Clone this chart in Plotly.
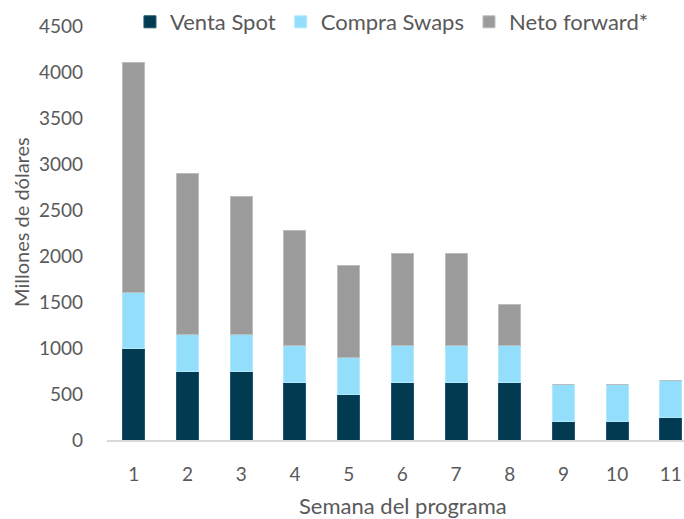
import plotly.graph_objects as go

weeks = ["1", "2", "3", "4", "5", "6", "7", "8", "9", "10", "11"]
venta_spot = [1000, 750, 750, 625, 500, 625, 625, 625, 200, 200, 250]
compra_swaps = [600, 400, 400, 400, 400, 400, 400, 400, 400, 400, 400]
neto_forward = [2500, 1750, 1500, 1250, 1000, 1000, 1000, 450, 0, 0, 0]
y_ticks = [0, 500, 1000, 1500, 2000, 2500, 3000, 3500, 4000, 4500]

FONT = "Lato"
TXT = "#595959"

fig = go.Figure()
fig.add_trace(go.Bar(x=weeks, y=venta_spot, name="Venta Spot", marker_color="#023A51",
                     marker_line=dict(color="#1d5670", width=1)))
fig.add_trace(go.Bar(x=weeks, y=compra_swaps, name="Compra Swaps", marker_color="#93DFFB",
                     marker_line=dict(color="#b3e9fc", width=1)))
fig.add_trace(go.Bar(x=weeks, y=neto_forward, name="Neto forward*", marker_color="#9B9B9B",
                     marker_line=dict(color="#bdbdbd", width=1)))

fig.update_layout(
    barmode="stack",
    bargap=0.59,
    width=684, height=519,
    margin=dict(l=107, r=0, t=26, b=79, autoexpand=False),
    paper_bgcolor="white", plot_bgcolor="white",
    font=dict(family=FONT, size=19, color=TXT),
    legend=dict(orientation="h", xref="container", yref="container",
                x=0.19, y=1 - 22 / 519, xanchor="left", yanchor="middle",
                font=dict(size=22, color=TXT), itemclick=False, traceorder="normal",
                bgcolor="rgba(0,0,0,0)", itemwidth=30),
    xaxis=dict(type="category", range=[-0.5, 10.245], showgrid=False, showline=True,
               linecolor="#D9D9D9", linewidth=2, ticks="", tickfont=dict(size=19, color=TXT),
               ticklabelstandoff=16, automargin=False),
    yaxis=dict(range=[0, 4500], tickvals=y_ticks, showgrid=False, showline=False, zeroline=False,
               ticks="", tickfont=dict(size=19, color=TXT), ticklabelstandoff=23,
               automargin=False),
    annotations=[
        dict(text="Millones de dólares", textangle=-90, xref="paper", yref="paper",
             x=(21 - 107) / 577, y=(440 - 222) / 414, xanchor="center", yanchor="middle",
             showarrow=False, font=dict(size=20, color=TXT)),
        dict(text="Semana del programa", xref="paper", yref="paper",
             x=(402.5 - 107) / 577, y=(440 - 505) / 414, xanchor="center", yanchor="middle",
             showarrow=False, font=dict(size=22, color=TXT)),
    ],
)

fig.write_html("out.html", config={"displayModeBar": False},
               post_script="document.body.style.margin='0px';")
